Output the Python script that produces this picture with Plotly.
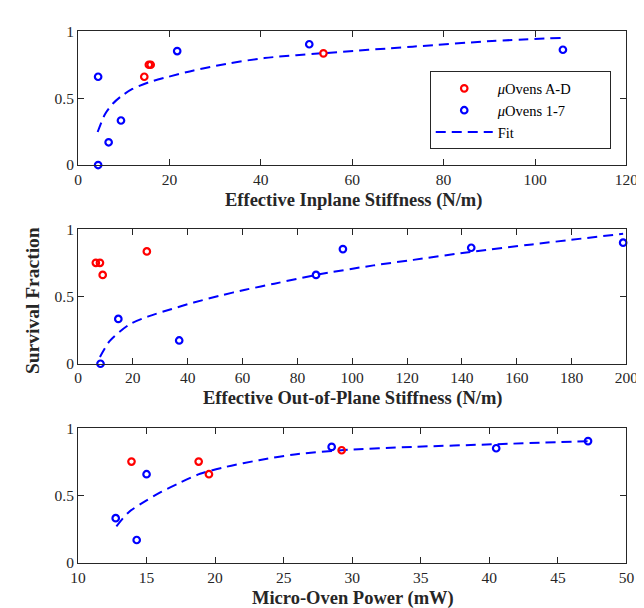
import plotly.graph_objects as go

# ---------------- data ----------------
# Panel 1: Effective Inplane Stiffness (N/m)
red_x1 = [14.5, 15.5, 15.9, 53.7]
red_y1 = [0.66, 0.75, 0.75, 0.835]
blue_x1 = [4.4, 4.4, 6.7, 9.4, 21.7, 50.6, 106.1]
blue_y1 = [0.66, 0.0, 0.17, 0.333, 0.852, 0.903, 0.862]
fit_x1 = [4.3, 5.9, 7.6, 9.4, 11.9, 15.4, 19.6, 25.3, 32.4, 40.8, 53.2, 73.2, 90.6, 106.0]
fit_y1 = [0.247, 0.38, 0.458, 0.513, 0.569, 0.618, 0.658, 0.707, 0.756, 0.80, 0.835, 0.885, 0.927, 0.951]

# Panel 2: Effective Out-of-Plane Stiffness (N/m)
red_x2 = [6.5, 8.0, 9.0, 25.1]
red_y2 = [0.75, 0.75, 0.66, 0.835]
blue_x2 = [8.2, 14.7, 36.9, 86.8, 96.6, 143.4, 198.8]
blue_y2 = [0.0, 0.333, 0.173, 0.66, 0.852, 0.862, 0.90]
fit_x2 = [8.0, 11.6, 18.6, 25.4, 33.9, 42.2, 51.6, 61.0, 71.6, 86.8, 107.8, 122.3, 143.4, 165.6, 198.8]
fit_y2 = [0.05, 0.17, 0.29, 0.35, 0.405, 0.455, 0.505, 0.55, 0.595, 0.66, 0.731, 0.772, 0.832, 0.887, 0.966]

# Panel 3: Micro-Oven Power (mW)
red_x3 = [13.9, 18.8, 19.55, 29.23]
red_y3 = [0.754, 0.754, 0.66, 0.838]
blue_x3 = [12.75, 14.28, 15.0, 28.5, 40.5, 47.2]
blue_y3 = [0.333, 0.171, 0.66, 0.863, 0.853, 0.906]
fit_x3 = [12.8, 13.7, 15.0, 16.1, 17.3, 18.9, 20.8, 23.2, 25.8, 29.2, 34.4, 40.2, 47.2]
fit_y3 = [0.272, 0.378, 0.465, 0.53, 0.59, 0.663, 0.715, 0.764, 0.807, 0.838, 0.863, 0.882, 0.906]

x_titles = ["Effective Inplane Stiffness (N/m)",
            "Effective Out-of-Plane Stiffness (N/m)",
            "Micro-Oven Power (mW)"]
y_title = "Survival Fraction"
legend_names = ["<i>\u03bc</i>Ovens A-D", "<i>\u03bc</i>Ovens 1-7", "Fit"]
x_ranges = [[0, 120], [0, 200], [10, 50]]
x_dticks = [20, 20, 5]
y_tickvals = [0, 0.5, 1]
y_ticktext = ["0", "0.5", "1"]

# ---------------- figure ----------------
W, H = 644, 608
FONT = "Liberation Serif, Times New Roman, serif"
RED = "#ff0000"
BLUE = "#0000ff"
AX = "#262626"
LEGEND_PAD = "\u00a0" * 9  # trailing blank room inside the legend box

panels = [
    (red_x1, red_y1, blue_x1, blue_y1, fit_x1, fit_y1),
    (red_x2, red_y2, blue_x2, blue_y2, fit_x2, fit_y2),
    (red_x3, red_y3, blue_x3, blue_y3, fit_x3, fit_y3),
]

# pixel geometry of the three axes boxes
x_left, x_right = 64, 630
y_boxes = [(14.7, 152.3), (218.3, 356.7), (423.3, 561.7)]
title_y_px = [188.5, 392.9, 597.9]

MARK = dict(size=6.5, lw=2.2)
DASH = "10px,6px"

fig = go.Figure()
for i, (rx, ry, bx, by, fx, fy) in enumerate(panels):
    n = "" if i == 0 else str(i + 1)
    xa, ya = "x" + n, "y" + n
    show = i == 0
    fig.add_trace(go.Scatter(
        x=fx, y=fy, mode="lines", name=legend_names[2], xaxis=xa, yaxis=ya,
        line=dict(color=BLUE, width=2, dash=DASH, shape="spline", smoothing=0.8),
        showlegend=False, cliponaxis=False))
    fig.add_trace(go.Scatter(
        x=rx, y=ry, mode="markers", name=legend_names[0] + LEGEND_PAD, xaxis=xa, yaxis=ya,
        marker=dict(symbol="circle-open", size=MARK["size"], color=RED,
                    line=dict(width=MARK["lw"], color=RED)),
        showlegend=show, legendrank=1, cliponaxis=False))
    fig.add_trace(go.Scatter(
        x=bx, y=by, mode="markers", name=legend_names[1], xaxis=xa, yaxis=ya,
        marker=dict(symbol="circle-open", size=MARK["size"], color=BLUE,
                    line=dict(width=MARK["lw"], color=BLUE)),
        showlegend=show, legendrank=2, cliponaxis=False))
    if show:
        fig.add_trace(go.Scatter(
            x=[None], y=[None], mode="lines", name=legend_names[2], xaxis=xa, yaxis=ya,
            line=dict(color=BLUE, width=2, dash=DASH),
            showlegend=True, legendrank=3))

layout = dict(
    width=W, height=H, autosize=False,
    margin=dict(l=0, r=0, t=0, b=0),
    paper_bgcolor="white", plot_bgcolor="white",
    font=dict(family=FONT, size=15, color="#262626"),
    legend=dict(
        x=427 / W, y=1 - 56 / H, xanchor="left", yanchor="top",
        bgcolor="white", bordercolor="#262626", borderwidth=1,
        font=dict(family=FONT, size=14.5, color="#000000"),
        tracegroupgap=0, itemwidth=57,
    ),
    annotations=[],
)

for i in range(3):
    n = "" if i == 0 else str(i + 1)
    top, bot = y_boxes[i]
    axis_common = dict(
        showgrid=False, zeroline=False, showline=True, linecolor=AX, linewidth=1,
        mirror="ticks", ticks="inside", ticklen=6, tickwidth=1, tickcolor=AX,
        tickfont=dict(family=FONT, size=15.5, color="#262626"),
    )
    layout["xaxis" + n] = dict(
        axis_common, domain=[x_left / W, x_right / W], range=x_ranges[i],
        dtick=x_dticks[i], tick0=0, anchor="y" + n,
    )
    layout["yaxis" + n] = dict(
        axis_common, domain=[1 - bot / H, 1 - top / H], range=[0, 1],
        tickvals=y_tickvals, ticktext=y_ticktext, anchor="x" + n,
    )
    layout["annotations"].append(dict(
        text="<b>" + x_titles[i] + "</b>", xref="paper", yref="paper",
        x=348 / W, y=1 - title_y_px[i] / H,
        xanchor="center", yanchor="middle", showarrow=False,
        font=dict(family=FONT, size=18.5, color="#262626")))

layout["annotations"].append(dict(
    text="<b>" + y_title + "</b>", xref="paper", yref="paper",
    x=17.3 / W, y=1 - 291.5 / H, xanchor="center", yanchor="middle",
    textangle=-90, showarrow=False,
    font=dict(family=FONT, size=19.5, color="#262626")))

fig.update_layout(layout)
fig.write_html("out.html")
